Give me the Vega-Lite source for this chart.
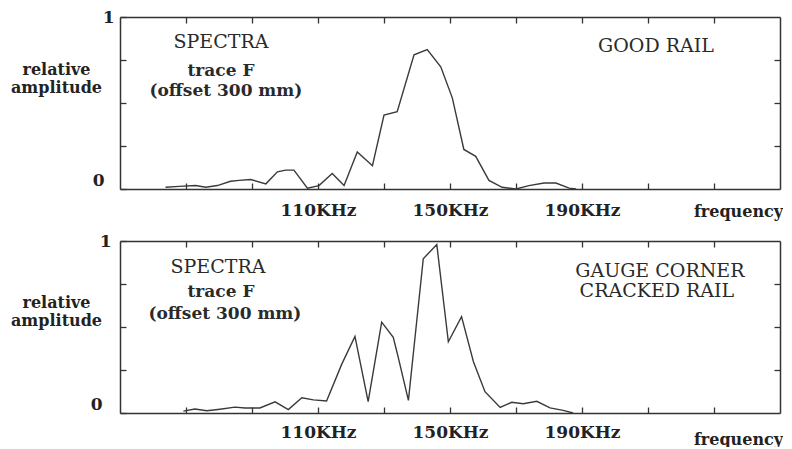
{
  "$schema": "https://vega.github.io/schema/vega-lite/v6.json",
  "background": "white",
  "padding": {"left": 10, "top": 8, "right": 0, "bottom": 0},
  "spacing": 52,
  "bounds": "flush",
  "config": {
    "view": {"stroke": null},
    "font": "DejaVu Serif",
    "axis": {
      "grid": false,
      "domainColor": "#333333",
      "domainWidth": 1.5,
      "tickColor": "#333333",
      "tickWidth": 1.3,
      "labelFont": "DejaVu Serif",
      "labelFontWeight": "bold",
      "labelFontSize": 17,
      "labelColor": "#222222",
      "titleFont": "DejaVu Serif",
      "titleFontWeight": "bold",
      "titleFontSize": 16,
      "titleColor": "#222222"
    }
  },
  "datasets": {
    "good": [
      {"frequency": 63.8, "amplitude": 0.01},
      {"frequency": 67.9, "amplitude": 0.015},
      {"frequency": 72.9, "amplitude": 0.02},
      {"frequency": 76.0, "amplitude": 0.01},
      {"frequency": 79.5, "amplitude": 0.02},
      {"frequency": 83.5, "amplitude": 0.045},
      {"frequency": 86.1, "amplitude": 0.05},
      {"frequency": 89.6, "amplitude": 0.055},
      {"frequency": 94.2, "amplitude": 0.03},
      {"frequency": 97.7, "amplitude": 0.1},
      {"frequency": 100.2, "amplitude": 0.11},
      {"frequency": 102.7, "amplitude": 0.11},
      {"frequency": 106.8, "amplitude": 0.005},
      {"frequency": 110.3, "amplitude": 0.02},
      {"frequency": 114.3, "amplitude": 0.09},
      {"frequency": 117.9, "amplitude": 0.02},
      {"frequency": 121.9, "amplitude": 0.215},
      {"frequency": 126.5, "amplitude": 0.135},
      {"frequency": 130.0, "amplitude": 0.43},
      {"frequency": 134.0, "amplitude": 0.45},
      {"frequency": 139.1, "amplitude": 0.78},
      {"frequency": 143.1, "amplitude": 0.81},
      {"frequency": 147.2, "amplitude": 0.71},
      {"frequency": 150.7, "amplitude": 0.53},
      {"frequency": 154.2, "amplitude": 0.23},
      {"frequency": 157.8, "amplitude": 0.19},
      {"frequency": 161.8, "amplitude": 0.05},
      {"frequency": 165.8, "amplitude": 0.01},
      {"frequency": 170.0, "amplitude": 0.0},
      {"frequency": 173.9, "amplitude": 0.02},
      {"frequency": 178.5, "amplitude": 0.035},
      {"frequency": 182.1, "amplitude": 0.035},
      {"frequency": 186.1, "amplitude": 0.005},
      {"frequency": 188.2, "amplitude": 0.0}
    ],
    "cracked": [
      {"frequency": 69.2, "amplitude": 0.011},
      {"frequency": 72.7, "amplitude": 0.023},
      {"frequency": 76.3, "amplitude": 0.013},
      {"frequency": 80.3, "amplitude": 0.022},
      {"frequency": 84.8, "amplitude": 0.034},
      {"frequency": 87.9, "amplitude": 0.029},
      {"frequency": 92.4, "amplitude": 0.029},
      {"frequency": 97.0, "amplitude": 0.065},
      {"frequency": 101.0, "amplitude": 0.02},
      {"frequency": 105.1, "amplitude": 0.089},
      {"frequency": 108.6, "amplitude": 0.076},
      {"frequency": 112.6, "amplitude": 0.07},
      {"frequency": 117.2, "amplitude": 0.284},
      {"frequency": 121.2, "amplitude": 0.445},
      {"frequency": 125.2, "amplitude": 0.066},
      {"frequency": 129.3, "amplitude": 0.528},
      {"frequency": 132.8, "amplitude": 0.44},
      {"frequency": 134.3, "amplitude": 0.325},
      {"frequency": 137.4, "amplitude": 0.073},
      {"frequency": 141.9, "amplitude": 0.897},
      {"frequency": 146.0, "amplitude": 0.979},
      {"frequency": 149.5, "amplitude": 0.414},
      {"frequency": 153.5, "amplitude": 0.56},
      {"frequency": 157.1, "amplitude": 0.298},
      {"frequency": 160.6, "amplitude": 0.124},
      {"frequency": 165.2, "amplitude": 0.032},
      {"frequency": 168.7, "amplitude": 0.062},
      {"frequency": 172.2, "amplitude": 0.054},
      {"frequency": 176.3, "amplitude": 0.068},
      {"frequency": 180.3, "amplitude": 0.03},
      {"frequency": 184.3, "amplitude": 0.015},
      {"frequency": 187.3, "amplitude": 0.0}
    ],
    "goodHead": [
      {"frequency": 80.6, "amplitude": 0.855, "text": "SPECTRA"},
      {"frequency": 212.4, "amplitude": 0.832, "text": "GOOD RAIL"}
    ],
    "goodSub": [
      {"frequency": 80.6, "amplitude": 0.688, "text": "trace F"},
      {"frequency": 82.1, "amplitude": 0.572, "text": "(offset 300 mm)"}
    ],
    "crackedHead": [
      {"frequency": 79.7, "amplitude": 0.849, "text": "SPECTRA"},
      {"frequency": 213.6, "amplitude": 0.826, "text": "GAUGE CORNER"},
      {"frequency": 212.7, "amplitude": 0.709, "text": "CRACKED RAIL"}
    ],
    "crackedSub": [
      {"frequency": 80.6, "amplitude": 0.703, "text": "trace F"},
      {"frequency": 81.8, "amplitude": 0.576, "text": "(offset 300 mm)"}
    ]
  },
  "vconcat": [
    {
      "width": 660,
      "height": 172,
      "resolve": {"axis": {"x": "independent", "y": "independent"}},
      "layer": [
        {
          "data": {"name": "good"},
          "mark": {"type": "line", "color": "#3a3a3a", "strokeWidth": 1.4},
          "encoding": {
            "x": {"field": "frequency", "type": "quantitative", "scale": {"domain": [50, 250], "nice": false},
              "axis": {"orient": "bottom", "values": [70, 90, 110, 130, 150, 170, 190, 210, 230], "tickSize": -6, "labelPadding": 27,
                "labelExpr": "datum.value == 110 || datum.value == 150 || datum.value == 190 ? datum.value + 'KHz' : ''",
                "labelBaseline": "middle", "labelFlush": false,
                "title": "frequency", "titleX": 618, "titleY": 22, "titleAlign": "center", "titleBaseline": "middle", "titleFontSize": 16}},
            "y": {"field": "amplitude", "type": "quantitative", "scale": {"domain": [0, 1], "nice": false},
              "axis": {"orient": "left", "values": [0, 0.25, 0.5, 0.75, 1], "tickSize": -6,
                "labelExpr": "datum.value == 0 ? '0' : datum.value == 1 ? '1' : ''",
                "labelPadding": {"condition": {"test": "datum.value == 0", "value": 22}, "value": 12},
                "labelBaseline": {"condition": {"test": "datum.value == 0", "value": "bottom"}, "value": "middle"},
                "labelFlush": false,
                "title": ["relative", "amplitude"], "titleAngle": 0, "titleX": -64, "titleY": 52, "titleAlign": "center", "titleBaseline": "middle", "titleLineHeight": 18}}
          }
        },
        {
          "data": {"name": "goodHead"},
          "mark": {"type": "text", "font": "DejaVu Serif", "fontSize": 19, "color": "#2a2a2a", "align": "center", "baseline": "middle"},
          "encoding": {
            "x": {"field": "frequency", "type": "quantitative", "scale": {"domain": [50, 250], "nice": false},
              "axis": {"orient": "top", "values": [70, 90, 110, 130, 150, 170, 190, 210, 230], "tickSize": -6, "labels": false, "title": null}},
            "y": {"field": "amplitude", "type": "quantitative", "scale": {"domain": [0, 1], "nice": false},
              "axis": {"orient": "right", "values": [0.25, 0.5, 0.75], "tickSize": -6, "labels": false, "title": null}},
            "text": {"field": "text"}
          }
        },
        {
          "data": {"name": "goodSub"},
          "mark": {"type": "text", "font": "DejaVu Serif", "fontSize": 17, "fontWeight": "bold", "color": "#2a2a2a", "align": "center", "baseline": "middle"},
          "encoding": {
            "x": {"field": "frequency", "type": "quantitative", "scale": {"domain": [50, 250], "nice": false}, "axis": null},
            "y": {"field": "amplitude", "type": "quantitative", "scale": {"domain": [0, 1], "nice": false}, "axis": null},
            "text": {"field": "text"}
          }
        }
      ]
    },
    {
      "width": 660,
      "height": 172,
      "resolve": {"axis": {"x": "independent", "y": "independent"}},
      "layer": [
        {
          "data": {"name": "cracked"},
          "mark": {"type": "line", "color": "#3a3a3a", "strokeWidth": 1.4},
          "encoding": {
            "x": {"field": "frequency", "type": "quantitative", "scale": {"domain": [50, 250], "nice": false},
              "axis": {"orient": "bottom", "values": [70, 90, 110, 130, 150, 170, 190, 210, 230], "tickSize": -6, "labelPadding": 25,
                "labelExpr": "datum.value == 110 || datum.value == 150 || datum.value == 190 ? datum.value + 'KHz' : ''",
                "labelBaseline": "middle", "labelFlush": false,
                "title": "frequency", "titleX": 618, "titleY": 26, "titleAlign": "center", "titleBaseline": "middle", "titleFontSize": 16}},
            "y": {"field": "amplitude", "type": "quantitative", "scale": {"domain": [0, 1], "nice": false},
              "axis": {"orient": "left", "values": [0, 0.25, 0.5, 0.75, 1], "tickSize": -6,
                "labelExpr": "datum.value == 0 ? '0' : datum.value == 1 ? '1' : ''",
                "labelPadding": {"condition": {"test": "datum.value == 0", "value": 24}, "value": 15},
                "labelBaseline": {"condition": {"test": "datum.value == 0", "value": "bottom"}, "value": "middle"},
                "labelFlush": false,
                "title": ["relative", "amplitude"], "titleAngle": 0, "titleX": -64, "titleY": 61, "titleAlign": "center", "titleBaseline": "middle", "titleLineHeight": 18}}
          }
        },
        {
          "data": {"name": "crackedHead"},
          "mark": {"type": "text", "font": "DejaVu Serif", "fontSize": 19, "color": "#2a2a2a", "align": "center", "baseline": "middle"},
          "encoding": {
            "x": {"field": "frequency", "type": "quantitative", "scale": {"domain": [50, 250], "nice": false},
              "axis": {"orient": "top", "values": [70, 90, 110, 130, 150, 170, 190, 210, 230], "tickSize": -6, "labels": false, "title": null}},
            "y": {"field": "amplitude", "type": "quantitative", "scale": {"domain": [0, 1], "nice": false},
              "axis": {"orient": "right", "values": [0.25, 0.5, 0.75], "tickSize": -6, "labels": false, "title": null}},
            "text": {"field": "text"}
          }
        },
        {
          "data": {"name": "crackedSub"},
          "mark": {"type": "text", "font": "DejaVu Serif", "fontSize": 17, "fontWeight": "bold", "color": "#2a2a2a", "align": "center", "baseline": "middle"},
          "encoding": {
            "x": {"field": "frequency", "type": "quantitative", "scale": {"domain": [50, 250], "nice": false}, "axis": null},
            "y": {"field": "amplitude", "type": "quantitative", "scale": {"domain": [0, 1], "nice": false}, "axis": null},
            "text": {"field": "text"}
          }
        }
      ]
    }
  ]
}
